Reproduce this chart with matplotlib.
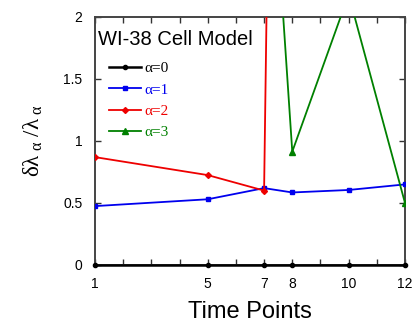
import matplotlib
matplotlib.use("Agg")
import matplotlib.pyplot as plt
import numpy as np

time_points = [1, 5, 7, 8, 10, 12]
alpha0 = [0.0, 0.0, 0.0, 0.0, 0.0, 0.0]
alpha1 = [0.475, 0.53, 0.62, 0.585, 0.605, 0.65]
alpha2 = [0.87, 0.725, 0.60, 17.0, 14.0, 12.0]
alpha3 = [6.0, 5.0, 4.3, 0.914, 2.18, 0.50]
labels = ['α=0', 'α=1', 'α=2', 'α=3']
tick_labels = ['1', '5', '7', '8', '10', '12']

plt.rcParams['font.family'] = ['Liberation Sans', 'DejaVu Sans']
plt.rcParams['mathtext.fontset'] = 'custom'
plt.rcParams['mathtext.rm'] = 'Liberation Serif'
plt.rcParams['mathtext.it'] = 'Liberation Serif'
plt.rcParams['mathtext.bf'] = 'Liberation Serif:bold'

fig = plt.figure(figsize=(4.15, 3.24), dpi=100)
ax = fig.add_axes([95/415, 1-265/324, 310/415, 248/324])

styles = [
    dict(color='black', marker='o', ms=3),
    dict(color='#0000ee', marker='s', ms=3.5),
    dict(color='#ee0000', marker='D', ms=3),
    dict(color='#008000', marker='^', ms=4),
]
series = [alpha0, alpha1, alpha2, alpha3]
handles = []
for s, st, lab in zip(series, styles, labels):
    lw = 1.8 if st['color'] == 'black' else 1.3
    h, = ax.plot(time_points, s, lw=lw, label=lab, clip_on=(st['color'] != 'black'), zorder=3, **st)
    handles.append(h)

ax.set_xlim(1, 12)
ax.set_ylim(0, 2)
ax.set_xticks(range(1, 13))
ax.set_xticklabels([str(i) if str(i) in tick_labels else '' for i in range(1, 13)])
ax.set_yticks([0, 0.5, 1, 1.5, 2])
ax.set_yticklabels(['0', '0.5', '1', '1.5', '2'])
ax.tick_params(direction='in', top=True, right=True, labelsize=10, length=4, width=1, pad=9, colors='#333333', labelcolor='black')
for sp in ax.spines.values():
    sp.set_linewidth(1.4)
    sp.set_color('#444444')

ax.set_xlabel('Time Points', fontsize=17, labelpad=7)
ax.set_ylabel(r'$\delta\lambda_{\ \alpha}\ /\lambda_{\ \alpha}$', fontsize=16.5, labelpad=13)

ax.text(0.01, 0.887, 'WI-38 Cell Model', transform=ax.transAxes, fontsize=14.5, va='baseline', ha='left')

leg = ax.legend(handles=handles, loc='upper left', bbox_to_anchor=(0.0, 0.875), frameon=False,
                handlelength=2.1, handletextpad=0.25, labelspacing=0.5,
                prop={'family': 'Liberation Serif', 'size': 11})
for t, st in zip(leg.get_texts(), styles):
    t.set_color(st['color'])

fig.savefig('out.png', dpi=100)
